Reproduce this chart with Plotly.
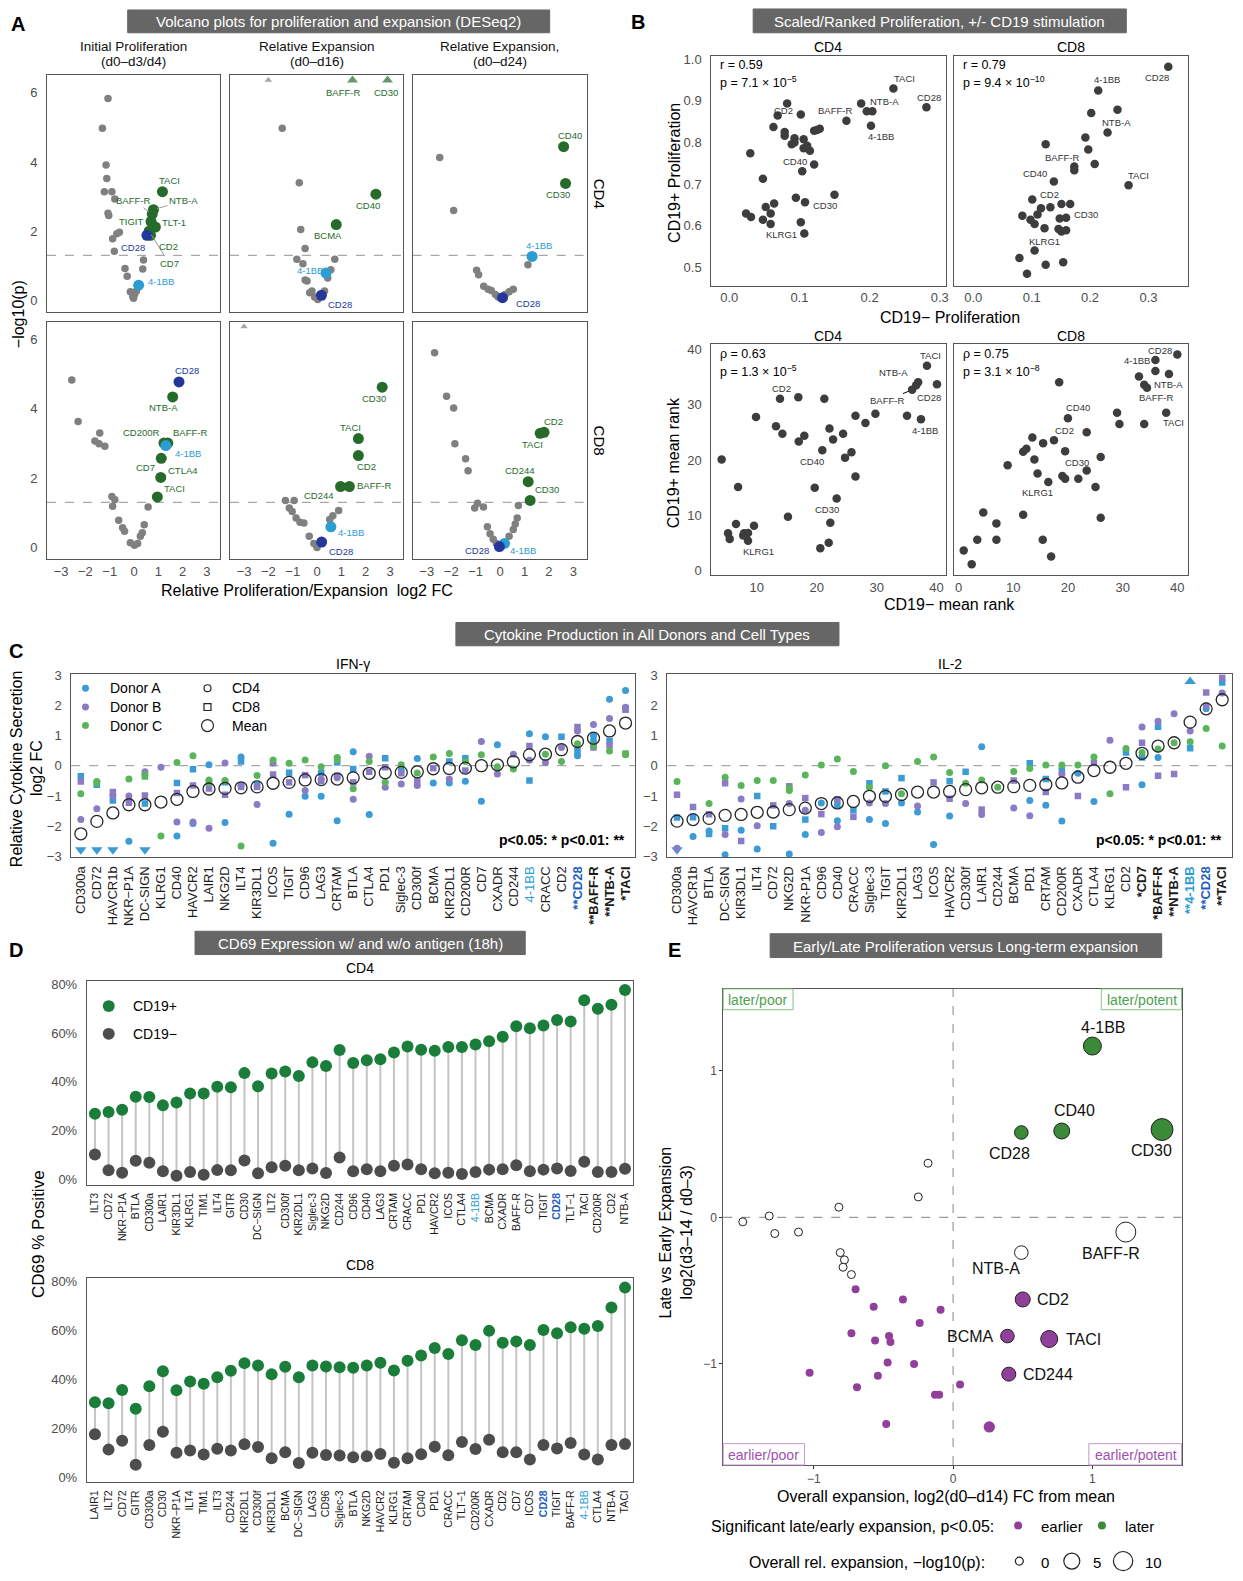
import numpy as np
import plotly.graph_objects as go

W, H = 1243, 1581
FONT = "Liberation Sans, Arial, Helvetica, sans-serif"

# ======================= DATA =======================
# ---- Panel A: volcano plots (log2 FC, -log10 p) ----
A1_GRAY_X = [-1.07, -1.30, -1.15, -1.12, -1.22, -0.91, -0.79, -1.07, -1.04, -0.71, -0.60, -0.88, -0.81, 0.39, -0.37, -0.28, 0.36, -0.15, -0.02, 0.02, 0.10, -0.05]
A1_GRAY_Y = [5.83, 4.97, 3.91, 3.52, 3.14, 3.14, 2.93, 2.52, 2.45, 1.93, 1.97, 1.78, 1.42, 1.17, 0.92, 0.70, 0.91, 0.25, 0.06, 0.17, 0.27, 0.12]
A1_HL = ["TACI", "NTB-A", "BAFF-R", "TIGIT", "TLT-1", "CD7", "CD2", "CD28", "4-1BB"]
A1_HL_X = [1.17, 0.80, 0.75, 0.70, 0.88, 0.62, 0.68, 0.53, 0.19]
A1_HL_Y = [3.14, 2.62, 2.50, 2.28, 2.12, 2.00, 1.88, 1.88, 0.44]
A1_TOP = []
A1_TOP_X = []

A2_GRAY_X = [-1.43, -0.73, -0.67, -0.49, -0.83, -0.58, 0.73, -0.49, -0.41, 0.57, 0.44, -0.21, -0.10, 0.03, 0.31, -0.30]
A2_GRAY_Y = [4.97, 3.40, 2.05, 1.50, 1.19, 1.06, 1.19, 0.59, 0.56, 0.89, 0.65, 0.27, 0.10, 0.03, 0.27, 0.22]
A2_HL = ["CD40", "BCMA", "4-1BB", "CD28"]
A2_HL_X = [2.42, 0.79, 0.37, 0.18]
A2_HL_Y = [3.07, 2.19, 0.79, 0.15]
A2_TOP = ["", "BAFF-R", "CD30"]          # off-scale (p beyond axis)
A2_TOP_X = [-2.00, 1.46, 2.90]

A3_GRAY_X = [-2.47, -1.90, -0.96, -0.88, -0.67, -0.49, -0.36, -0.19, -0.08, 0.21, 0.37, 0.54, 1.14]
A3_GRAY_Y = [4.13, 2.60, 0.87, 0.74, 0.41, 0.32, 0.29, 0.17, 0.10, 0.17, 0.25, 0.32, 1.03]
A3_HL = ["CD40", "CD30", "4-1BB", "CD28"]
A3_HL_X = [2.60, 2.68, 1.31, 0.10]
A3_HL_Y = [4.44, 3.38, 1.27, 0.08]
A3_TOP = []
A3_TOP_X = []

A4_GRAY_X = [-2.56, -2.30, -1.41, -1.61, -1.44, -1.20, -0.91, -0.88, -0.63, -0.47, -0.39, -0.15, 0.02, 0.15, 0.26, 0.34, 0.42, 0.58, -0.79]
A4_GRAY_Y = [4.83, 3.63, 3.30, 3.07, 2.99, 2.92, 1.47, 1.19, 0.79, 0.57, 0.47, 0.14, 0.07, 0.12, 0.33, 0.43, 0.66, 1.17, 1.38]
A4_HL = ["CD28", "NTB-A", "CD200R", "BAFF-R", "4-1BB", "CD7", "CTLA4", "TACI"]
A4_HL_X = [1.85, 1.59, 1.23, 1.39, 1.31, 1.12, 1.10, 0.96]
A4_HL_Y = [4.77, 4.34, 3.01, 3.01, 2.94, 2.57, 2.02, 1.46]
A4_TOP = []
A4_TOP_X = []

A5_GRAY_X = [-1.30, -0.94, -1.14, -1.02, -0.86, -0.70, -0.54, -0.32, -0.13, 0.00, 0.65, 0.89, 0.52]
A5_GRAY_Y = [1.36, 1.36, 1.14, 1.04, 0.85, 0.73, 0.71, 0.33, 0.12, 0.00, 0.92, 1.07, 0.81]
A5_HL = ["CD30", "TACI", "CD2", "CD244", "BAFF-R", "4-1BB", "CD28"]
A5_HL_X = [2.68, 1.70, 1.70, 0.97, 1.33, 0.57, 0.19]
A5_HL_Y = [4.62, 3.14, 2.65, 1.76, 1.76, 0.60, 0.16]
A5_TOP = [""]
A5_TOP_X = [-3.00]

A6_GRAY_X = [-2.68, -2.19, -1.90, -1.85, -1.41, -1.31, -1.04, -0.92, -0.68, -0.52, -0.41, -0.28, -0.15, 0.37, 0.54, 0.62, 0.70, 0.75]
A6_GRAY_Y = [5.61, 4.36, 4.02, 2.99, 2.56, 2.21, 1.14, 1.28, 1.17, 0.60, 0.40, 0.24, 0.12, 0.33, 0.52, 0.68, 0.85, 1.21]
A6_HL = ["CD2", "TACI", "CD244", "CD30", "4-1BB", "CD28"]
A6_HL_X = [1.80, 1.64, 1.15, 1.23, 0.18, -0.03]
A6_HL_Y = [3.32, 3.29, 1.90, 1.36, 0.12, 0.03]
A6_TOP = []
A6_TOP_X = []

P_CUTOFF = 0.05

# ---- Panel B: scaled / ranked proliferation ----
B1_X = [0.0825, 0.069, 0.102, 0.063, 0.079, 0.079, 0.093, 0.093, 0.089, 0.106, 0.106, 0.111, 0.115, 0.121, 0.129, 0.125, 0.030, 0.121, 0.104, 0.048, 0.167, 0.188, 0.196, 0.204, 0.202, 0.234, 0.281, 0.150, 0.095, 0.108, 0.064, 0.052, 0.024, 0.031, 0.059, 0.048, 0.059, 0.102, 0.107]
B1_Y = [0.894, 0.865, 0.867, 0.837, 0.825, 0.816, 0.810, 0.800, 0.796, 0.808, 0.786, 0.792, 0.780, 0.828, 0.833, 0.830, 0.774, 0.747, 0.731, 0.713, 0.852, 0.894, 0.875, 0.875, 0.840, 0.930, 0.885, 0.674, 0.667, 0.656, 0.653, 0.645, 0.629, 0.621, 0.629, 0.614, 0.604, 0.608, 0.581]
B1_N = ["", "CD2", "", "", "", "", "", "", "", "", "", "", "", "", "", "", "", "", "CD40", "", "BAFF-R", "NTB-A", "", "", "4-1BB", "TACI", "CD28", "", "", "CD30", "", "", "", "", "", "", "", "", "KLRG1"]

B2_X = [0.334, 0.214, 0.247, 0.202, 0.230, 0.192, 0.124, 0.197, 0.208, 0.173, 0.173, 0.266, 0.138, 0.101, 0.151, 0.166, 0.116, 0.132, 0.084, 0.110, 0.098, 0.105, 0.122, 0.148, 0.159, 0.146, 0.151, 0.159, 0.105, 0.079, 0.124, 0.154, 0.092]
B2_Y = [0.982, 0.925, 0.879, 0.871, 0.824, 0.812, 0.796, 0.783, 0.748, 0.742, 0.733, 0.697, 0.706, 0.663, 0.652, 0.652, 0.642, 0.644, 0.624, 0.627, 0.614, 0.604, 0.594, 0.617, 0.619, 0.592, 0.586, 0.589, 0.540, 0.522, 0.506, 0.512, 0.484]
B2_N = ["CD28", "4-1BB", "NTB-A", "", "", "", "", "", "", "BAFF-R", "", "TACI", "CD40", "CD2", "", "", "", "", "", "", "", "", "KLRG1", "", "CD30", "", "", "", "", "", "", "", ""]

B3_X = [4.13, 6.87, 6.53, 5.20, 5.47, 7.87, 8.53, 9.53, 8.53, 7.73, 9.87, 13.87, 16.93, 21.27, 13.20, 14.27, 17.00, 17.93, 20.93, 22.13, 22.73, 24.40, 24.73, 25.80, 26.47, 28.13, 29.80, 26.47, 19.67, 23.33, 15.20, 22.27, 20.60, 22.00, 35.07, 37.40, 38.40, 40.07, 36.93, 36.60, 35.93]
B3_Y = [20.06, 15.09, 8.38, 6.71, 5.69, 6.71, 6.77, 8.08, 5.33, 6.29, 27.78, 31.08, 31.38, 31.08, 26.11, 24.73, 23.35, 24.37, 21.74, 25.69, 23.71, 24.73, 20.42, 21.38, 28.02, 26.71, 28.38, 17.01, 14.97, 12.99, 9.70, 8.62, 4.01, 4.97, 28.02, 27.37, 37.07, 33.71, 34.07, 33.53, 32.75]
B3_N = ["", "", "", "", "", "", "", "", "KLRG1", "", "", "CD2", "", "", "", "", "", "", "CD40", "", "", "", "", "", "", "", "", "", "", "CD30", "", "", "", "", "", "4-1BB", "TACI", "CD28", "NTB-A", "", "BAFF-R"]

B4_X = [0.95, 2.41, 3.43, 4.53, 6.93, 6.93, 8.98, 11.82, 12.41, 13.50, 13.87, 14.45, 15.47, 16.42, 17.45, 18.40, 19.49, 18.98, 19.49, 20.00, 21.90, 23.43, 23.43, 25.04, 25.99, 25.99, 11.82, 15.40, 16.93, 28.98, 29.42, 33.94, 32.99, 33.94, 34.45, 35.99, 35.99, 38.47, 37.96, 40.00]
B4_Y = [3.59, 1.08, 5.51, 10.48, 8.50, 5.51, 19.04, 21.50, 22.04, 24.07, 20.06, 17.54, 23.05, 15.99, 23.59, 34.07, 21.56, 17.07, 16.59, 27.54, 16.59, 25.03, 18.08, 15.09, 20.54, 9.52, 10.06, 5.51, 2.51, 28.56, 26.53, 26.53, 35.15, 33.65, 33.11, 38.14, 36.11, 35.57, 28.56, 39.10]
B4_N = ["", "", "", "", "", "", "", "", "", "", "", "", "", "KLRG1", "CD2", "", "", "", "", "CD40", "", "", "CD30", "", "", "", "", "", "", "", "", "", "", "", "BAFF-R", "4-1BB", "", "NTB-A", "TACI", "CD28"]

B_STATS = [("r = 0.59", "p = 7.1 × 10<sup>−5</sup>"), ("r = 0.79", "p = 9.4 × 10<sup>−10</sup>"),
           ("ρ = 0.63", "p = 1.3 × 10<sup>−5</sup>"), ("ρ = 0.75", "p = 3.1 × 10<sup>−8</sup>")]

# ---- Panel C: cytokine secretion (log2 FC) ----
N = None
IFN_NAMES = ["CD300a", "CD72", "HAVCR1b", "NKR−P1A", "DC-SIGN", "KLRG1", "CD40", "HAVCR2", "LAIR1", "NKG2D", "ILT4", "KIR3DL1", "ICOS", "TIGIT", "CD96", "LAG3", "CRTAM", "BTLA", "CTLA4", "PD1", "Siglec-3", "CD300f", "BCMA", "KIR2DL1", "CD200R", "CD7", "CXADR", "CD244", "4-1BB", "CRACC", "CD2", "CD28", "BAFF-R", "NTB-A", "TACI"]
IFN_SIG = [""] * 31 + ["**", "**", "**", "*"]
IFN_MEAN = [-2.25, -1.84, -1.56, -1.29, -1.29, -1.20, -1.11, -0.85, -0.77, -0.75, -0.73, -0.70, -0.58, -0.55, -0.47, -0.46, -0.44, -0.40, -0.25, -0.23, -0.22, -0.20, -0.10, -0.09, -0.08, 0.00, 0.03, 0.13, 0.36, 0.38, 0.53, 0.80, 0.91, 1.15, 1.41]
IFN_A_CD4 = [-3.5, -3.5, -3.5, -2.50, -3.5, N, -2.32, -1.91, 0.03, -1.88, 0.29, N, -2.56, -1.60, -1.01, -1.01, -1.82, 0.46, -1.61, N, N, 0.24, -0.57, -0.57, -0.51, -1.17, 0.69, N, 1.06, 0.96, N, 0.33, 0.98, 2.20, 2.49]
IFN_A_CD8 = [-0.35, -0.63, -1.15, N, -1.25, N, -0.57, -0.12, N, -0.55, 0.14, -0.63, N, -0.23, N, -0.24, 0.11, -0.11, N, 0.25, -0.14, N, N, 0.14, 0.25, N, N, N, -0.49, N, 0.96, 0.49, 0.80, 0.82, 1.90]
IFN_B_CD4 = [-1.78, -1.42, -0.98, -1.00, -0.20, -0.05, -1.86, -1.86, -2.07, 0.09, -0.65, -1.28, 0.08, N, -0.82, -0.45, -0.40, -1.11, 0.31, -0.71, -0.60, -0.65, N, -0.44, N, 0.80, -0.27, 0.38, 0.18, 0.11, 0.60, 1.15, 1.36, 1.56, 1.93]
IFN_B_CD8 = [-0.52, N, -0.87, -1.22, -0.98, N, -0.90, -0.65, -0.75, -0.96, -0.70, -0.70, -0.29, -0.55, -0.31, -0.51, -0.33, -0.55, -0.20, -0.05, -0.25, -0.49, -0.08, N, -0.16, N, N, N, 0.65, N, N, 1.28, 0.60, 0.68, 1.85]
IFN_C_CD4 = [-0.93, -0.52, N, -0.44, -0.31, -2.32, 0.11, 0.33, -0.47, -0.49, -2.65, -0.32, 0.19, 0.08, 0.19, -0.03, 0.27, -0.76, 0.14, -0.55, 0.03, -0.24, 0.29, 0.40, 0.14, 0.36, -0.03, -0.11, N, 0.38, 0.14, 0.73, 0.65, 0.49, 0.36]
IFN_C_CD8 = [N, -0.57, N, N, -0.36, N, N, N, -0.55, N, N, N, N, N, N, N, 0.20, N, N, N, N, N, N, N, N, N, N, N, N, N, N, N, N, N, 0.40]

IL2_NAMES = ["CD300a", "HAVCR1b", "BTLA", "DC-SIGN", "KIR3DL1", "ILT4", "CD72", "NKG2D", "NKR-P1A", "CD96", "CD40", "CRACC", "Siglec-3", "TIGIT", "KIR2DL1", "LAG3", "ICOS", "HAVCR2", "CD300f", "LAIR1", "CD244", "BCMA", "PD1", "CRTAM", "CD200R", "CXADR", "CTLA4", "KLRG1", "CD2", "CD7", "BAFF-R", "NTB-A", "4-1BB", "CD28", "TACI"]
IL2_SIG = [""] * 29 + ["*", "*", "**", "**", "**", "**"]
IL2_MEAN = [-1.83, -1.78, -1.74, -1.64, -1.61, -1.54, -1.53, -1.45, -1.40, -1.25, -1.23, -1.18, -1.01, -1.01, -0.95, -0.87, -0.87, -0.85, -0.79, -0.73, -0.71, -0.69, -0.65, -0.62, -0.57, -0.38, -0.16, -0.05, 0.08, 0.41, 0.65, 0.76, 1.44, 1.88, 2.18]
IL2_A_CD4 = [-3.5, -2.34, -2.16, -2.94, -2.13, -2.75, N, -2.92, -2.27, -1.23, -1.82, N, -1.78, -1.91, -1.23, -1.53, -2.60, -1.66, N, 0.63, N, N, -1.15, -1.31, -1.83, -0.25, -1.18, N, N, -0.63, 0.27, N, 3.5, 1.88, N]
IL2_A_CD8 = [-1.71, -1.70, -2.26, -2.07, N, -1.00, -2.00, N, -1.78, N, -1.30, -1.47, -0.58, -0.85, -0.41, N, N, -0.51, -0.20, N, N, N, 0.08, -0.44, -0.14, N, N, N, 0.44, 0.27, 1.29, N, 0.58, N, 2.75]
IL2_B_CD4 = [-2.73, N, N, -2.27, -1.10, -1.98, N, -1.25, -1.47, -2.21, -2.02, N, -1.23, -1.25, N, -1.33, N, N, -1.25, -1.61, N, -1.40, -1.65, N, -0.27, N, N, 0.84, N, 1.28, 1.47, 1.72, 1.15, 1.98, 2.40]
IL2_B_CD8 = [-0.96, -1.36, -1.60, -0.58, -2.49, N, -1.31, -0.68, -1.07, -1.60, -1.11, -1.69, N, N, N, N, -0.55, -1.09, N, -1.45, N, -0.49, N, -0.87, N, -1.00, 0.09, N, -0.71, 0.76, -0.33, -0.27, N, 2.42, 2.91]
IL2_C_CD4 = [-0.52, N, -1.25, -0.38, -0.65, -0.49, -0.49, -0.82, -0.31, 0.02, 0.22, -0.19, -0.71, 0.00, -0.93, 0.14, 0.29, -0.22, -0.58, -0.47, -0.71, -0.19, -0.09, 0.02, 0.02, 0.02, 0.29, -0.93, 0.57, 0.44, 0.55, 0.76, 0.79, 1.23, 0.65]
IL2_C_CD8 = [N, N, N, N, N, N, N, -0.75, N, N, N, N, N, N, N, N, N, N, N, N, N, N, N, N, N, N, N, N, N, N, N, N, N, N, N]

# ---- Panel D: CD69 expression (% positive) ----
D4_NAMES = ["ILT3", "CD72", "NKR−P1A", "BTLA", "CD300a", "LAIR1", "KIR3DL1", "KLRG1", "TIM1", "ILT4", "GITR", "CD30", "DC−SIGN", "ILT2", "CD300f", "KIR2DL1", "Siglec-3", "NKG2D", "CD244", "CD96", "CD40", "LAG3", "CRTAM", "CRACC", "PD1", "HAVCR2", "ICOS", "CTLA4", "4-1BB", "BCMA", "CXADR", "BAFF-R", "CD7", "TIGIT", "CD28", "TLT−1", "TACI", "CD200R", "CD2", "NTB-A"]
D4_POS = [27.0, 27.7, 28.6, 33.9, 33.8, 30.4, 31.6, 35.3, 35.3, 38.0, 37.8, 43.6, 38.2, 43.4, 44.3, 42.4, 48.0, 46.5, 53.1, 47.7, 48.9, 49.3, 52.0, 54.5, 53.2, 52.8, 54.3, 54.3, 55.3, 56.6, 58.5, 62.8, 62.0, 63.1, 65.3, 64.7, 73.4, 69.9, 71.6, 77.6]
D4_NEG = [10.3, 3.8, 2.8, 7.7, 6.9, 3.4, 1.6, 3.1, 2.0, 3.9, 3.8, 7.8, 2.6, 5.1, 5.7, 3.8, 4.6, 2.7, 9.1, 3.4, 4.3, 3.4, 5.7, 6.2, 4.3, 2.6, 2.8, 2.3, 3.1, 4.1, 4.3, 5.9, 3.4, 4.1, 4.6, 3.5, 7.3, 3.1, 3.1, 4.5]
D8_NAMES = ["LAIR1", "ILT2", "CD72", "GITR", "CD300a", "CD30", "NKR−P1A", "ILT4", "TIM1", "ILT3", "CD244", "KIR2DL1", "CD300f", "KIR3DL1", "BCMA", "DC−SIGN", "LAG3", "CD96", "Siglec-3", "BTLA", "NKG2D", "HAVCR2", "KLRG1", "CRTAM", "CD40", "PD1", "CRACC", "TLT−1", "CD200R", "CXADR", "CD2", "CD7", "ICOS", "CD28", "TIGIT", "BAFF-R", "4-1BB", "CTLA4", "NTB-A", "TACI"]
D8_POS = [30.6, 30.2, 35.6, 27.9, 37.1, 43.3, 35.5, 39.1, 38.2, 40.8, 43.5, 46.6, 45.6, 42.0, 45.1, 40.8, 45.6, 45.2, 44.9, 44.7, 45.6, 46.8, 43.6, 47.6, 49.7, 52.8, 50.3, 56.0, 54.0, 59.8, 54.9, 55.5, 54.0, 60.2, 58.8, 61.3, 60.7, 61.8, 69.4, 77.5]
D8_NEG = [17.5, 11.2, 14.8, 5.0, 13.1, 18.5, 9.9, 10.8, 9.2, 11.6, 10.8, 13.4, 12.3, 7.7, 10.1, 5.7, 9.9, 9.0, 8.8, 8.1, 8.5, 9.4, 5.8, 7.7, 9.3, 12.4, 8.9, 14.3, 11.5, 15.2, 10.1, 10.1, 7.2, 13.1, 11.7, 13.9, 9.2, 7.2, 13.1, 13.5]

# ---- Panel E: early/late vs long-term expansion ----
E_X = [1.00, 0.78, 0.49, 1.50,
       -1.51, -1.32, -1.28, -1.11, -0.82, -0.25, -0.18, 1.24, 0.49, -0.81, -0.78, -0.79, -0.73,
       -0.70, -0.36, -0.57, -0.09, -0.24, -0.73, -0.56, -0.46, -0.45, -0.47, -0.28, -1.03, -0.54, 0.05, -0.69, -0.13, -0.10, -0.48, 0.26,
       0.50, 0.39, 0.69, 0.40]
E_Y = [1.17, 0.59, 0.58, 0.60,
       -0.03, 0.01, -0.11, -0.10, 0.07, 0.14, 0.37, -0.10, -0.24, -0.24, -0.29, -0.34, -0.39,
       -0.49, -0.56, -0.61, -0.63, -0.72, -0.79, -0.84, -0.81, -0.85, -0.99, -1.00, -1.06, -1.08, -1.14, -1.16, -1.21, -1.21, -1.41, -1.43,
       -0.56, -0.81, -0.83, -1.07]
E_NLP = [7.7, 4.9, 2.4, 15.0,
         0, 0, 0, 0, 0, 0, 0, 11.0, 2.4, 0, 0, 0, 0,
         0, 0, 0, 0, 0, 0, 0, 0, 0, 0, 0, 0, 0, 0, 0, 0, 0, 0, 0.85,
         3.8, 2.4, 6.25, 2.8]
E_SIG = ["later"] * 4 + ["ns"] * 13 + ["earlier"] * 23
E_NAME = ["4-1BB", "CD40", "CD28", "CD30",
          "", "", "", "", "", "", "", "BAFF-R", "NTB-A", "", "", "", "",
          "", "", "", "", "", "", "", "", "", "", "", "", "", "", "", "", "", "", "",
          "CD2", "BCMA", "TACI", "CD244"]

# ======================= STYLE =======================
GRAY = "#808080"; GREEN = "#276b2b"; NAVY = "#24389c"; LBLUE = "#2b9dd3"
CA = "#3b9bd6"; CB = "#8c7bc4"; CC = "#5ab55a"
D_POS_C = "#1a7d3a"; D_NEG_C = "#4d4d4d"
E_GREEN = "#3a8a3a"; E_PURPLE = "#923f9b"
TICKC = "#4d4d4d"; FRAME = "#555555"
CD28C = "#1d5fbf"

fig = go.Figure()
L = {}
ANN = []
SHP = []


def aid(n):
    return "" if n == 1 else str(n)


def add_axes(n, box, xr, yr, xkw=None, ykw=None):
    x0, x1, y0, y1 = box
    base = dict(showline=True, mirror=True, linecolor=FRAME, linewidth=1, showgrid=False,
                zeroline=False, ticks="", tickfont=dict(size=13, color=TICKC, family=FONT))
    xa = dict(base, domain=[x0 / W, x1 / W], range=xr, anchor="y" + aid(n))
    ya = dict(base, domain=[1 - y1 / H, 1 - y0 / H], range=yr, anchor="x" + aid(n))
    if xkw:
        xa.update(xkw)
    if ykw:
        ya.update(ykw)
    L["xaxis" + aid(n)] = xa
    L["yaxis" + aid(n)] = ya


def sc(n, **kw):
    fig.add_trace(go.Scatter(xaxis="x" + aid(n), yaxis="y" + aid(n), showlegend=False,
                             hoverinfo="skip", **kw))


def txt(x, y, s, size=14, color="#000", family=FONT, xanchor="center", yanchor="middle", **kw):
    ANN.append(dict(x=x / W, y=1 - y / H, xref="paper", yref="paper", text=s, showarrow=False,
                    xanchor=xanchor, yanchor=yanchor,
                    font=dict(size=size, color=color, family=family), **kw))


def dlabel(n, x, y, s, dx, dy, size=10, color="#000", leader=False, xanchor="center", **kw):
    d = dict(x=x, y=y, xref="x" + aid(n), yref="y" + aid(n), text=s, xanchor=xanchor,
             yanchor="middle", font=dict(size=size, color=color, family=FONT))
    if leader:
        d.update(showarrow=True, arrowhead=0, ax=dx, ay=-dy, arrowcolor="#9a9a9a",
                 arrowwidth=1, standoff=4)
    else:
        d.update(showarrow=False, xshift=dx, yshift=dy)
    d.update(kw)
    ANN.append(d)


def rect(x0, y0, x1, y1, fill=None, line="rgba(0,0,0,0)", lw=1, layer="above"):
    SHP.append(dict(type="rect", xref="paper", yref="paper", x0=x0 / W, x1=x1 / W,
                    y0=1 - y1 / H, y1=1 - y0 / H, fillcolor=fill or "rgba(0,0,0,0)",
                    line=dict(color=line, width=lw), layer=layer))


def circ(cx, cy, d, fill, line="rgba(0,0,0,0)", lw=1):
    r = d / 2
    SHP.append(dict(type="circle", xref="paper", yref="paper", x0=(cx - r) / W, x1=(cx + r) / W,
                    y0=1 - (cy + r) / H, y1=1 - (cy - r) / H, fillcolor=fill,
                    line=dict(color=line, width=lw), layer="above"))


def title_box(x0, y0, x1, y1, s, size=15):
    rect(x0, y0, x1, y1, fill="#666666", line="#666666", layer="below")
    txt((x0 + x1) / 2, (y0 + y1) / 2 + 0.5, s, size=size, color="#ffffff")


def hline(n, y, color="#a8a8a8"):
    SHP.append(dict(type="line", xref="x%s domain" % aid(n), yref="y" + aid(n), x0=0, x1=1,
                    y0=y, y1=y, line=dict(color=color, width=1.2, dash="dash"), layer="below"))


def vline(n, x, color="#a8a8a8"):
    SHP.append(dict(type="line", yref="y%s domain" % aid(n), xref="x" + aid(n), y0=0, y1=1,
                    x0=x, x1=x, line=dict(color=color, width=1.2, dash="dash"), layer="below"))


# ======================= PANEL A =======================
A_COLS = [(47.1, 220.6), (230.5, 404.1), (413.6, 588.0)]
A_ROWS = [(69.0, 307.6), (317.7, 557.0)]
A_XR = [-3.58, 3.54]
A_YR = [-0.33, 6.5]
A_TOPY = 6.36

A_SETS = [
    (A1_GRAY_X, A1_GRAY_Y, A1_HL, A1_HL_X, A1_HL_Y, A1_TOP, A1_TOP_X),
    (A2_GRAY_X, A2_GRAY_Y, A2_HL, A2_HL_X, A2_HL_Y, A2_TOP, A2_TOP_X),
    (A3_GRAY_X, A3_GRAY_Y, A3_HL, A3_HL_X, A3_HL_Y, A3_TOP, A3_TOP_X),
    (A4_GRAY_X, A4_GRAY_Y, A4_HL, A4_HL_X, A4_HL_Y, A4_TOP, A4_TOP_X),
    (A5_GRAY_X, A5_GRAY_Y, A5_HL, A5_HL_X, A5_HL_Y, A5_TOP, A5_TOP_X),
    (A6_GRAY_X, A6_GRAY_Y, A6_HL, A6_HL_X, A6_HL_Y, A6_TOP, A6_TOP_X),
]
A_LBL = {
    1: {"TACI": (7, 11), "NTB-A": (30, 9, 1), "BAFF-R": (-19, 13, 1), "TIGIT": (-20, 0), "TLT-1": (19, 5),
        "CD28": (-14, -12), "CD2": (18, -11), "CD7": (20, -32, 1), "4-1BB": (22, 4)},
    2: {"BAFF-R": (-10, -12), "CD30": (-2, -12), "CD40": (-8, -11), "BCMA": (-8, -11), "4-1BB": (-16, 3),
        "CD28": (19, -9)},
    3: {"CD40": (6, 11), "CD30": (-8, -11), "4-1BB": (7, 11), "CD28": (25, -6)},
    4: {"CD28": (8, 11), "NTB-A": (-9, -11), "CD200R": (-22, 11), "BAFF-R": (22, 11), "4-1BB": (22, -8),
        "CD7": (-16, -9), "CTLA4": (22, 7), "TACI": (17, 8)},
    5: {"CD30": (-8, -11), "TACI": (-8, 11), "CD2": (8, -11), "BAFF-R": (25, 1), "CD244": (-22, -9),
        "4-1BB": (20, -6), "CD28": (19, -9)},
    6: {"CD2": (9, 11), "TACI": (-8, -11), "CD244": (-8, 11), "CD30": (17, 11), "4-1BB": (19, -7),
        "CD28": (-22, -4)},
}


def vcol(name):
    if name == "CD28":
        return NAVY
    if name == "4-1BB":
        return LBLUE
    return GREEN if name else GRAY


for k, (gx, gy, hn, hx, hy, tn, tx) in enumerate(A_SETS):
    n = k + 1
    r, c = divmod(k, 3)
    box = (A_COLS[c][0], A_COLS[c][1], A_ROWS[r][0], A_ROWS[r][1])
    add_axes(n, box, A_XR, A_YR,
             xkw=dict(tickvals=[-3, -2, -1, 0, 1, 2, 3], showticklabels=(r == 1), ticklabelstandoff=0),
             ykw=dict(tickvals=[0, 2, 4, 6], showticklabels=(c == 0), ticklabelstandoff=6))
    hline(n, -np.log10(P_CUTOFF))
    sc(n, x=gx, y=gy, mode="markers", marker=dict(size=7.5, color=GRAY))
    if tx:
        sc(n, x=tx, y=[A_TOPY] * len(tx), mode="markers",
           marker=dict(symbol="triangle-up", size=[8 if not t else 11 for t in tn],
                       color=[vcol(t) for t in tn]))
    sc(n, x=hx, y=hy, mode="markers", marker=dict(size=11, color=[vcol(t) for t in hn]))
    lab = A_LBL[n]
    for name, x, y in list(zip(hn, hx, hy)) + [(t, x, A_TOPY) for t, x in zip(tn, tx) if t]:
        if name in lab:
            o = lab[name]
            dlabel(n, x, y, name, o[0], o[1], size=9.5, color=vcol(name), leader=len(o) > 2)

A_TITLES = [("Initial Proliferation", "(d0–d3/d4)"), ("Relative Expansion", "(d0–d16)"),
            ("Relative Expansion,", "(d0–d24)")]
for (c0, c1), (t1, t2) in zip(A_COLS, A_TITLES):
    txt((c0 + c1) / 2, 40, t1, size=13.5, color="#111")
    txt((c0 + c1) / 2, 55, t2, size=13.5, color="#111")
txt(601, 188, "CD4", size=15, textangle=90)
txt(601, 437, "CD8", size=15, textangle=90)
txt(18, 310, "−log10(p)", size=16, textangle=-90)
txt(308, 589, "Relative Proliferation/Expansion  log2 FC", size=16)
title_box(128, 3, 551, 26, "Volcano plots for proliferation and expansion (DESeq2)")
txt(18, 17, "<b>A</b>", size=20)

# ======================= PANEL B =======================
B_COLS = [(713, 948), (956, 1191)]
B_ROWS = [(49, 281), (340.3, 573.3)]
B_SETS = [(7, B1_X, B1_Y, B1_N, [-0.0256, 0.3085], [0.456, 1.009]),
          (8, B2_X, B2_Y, B2_N, [-0.0336, 0.368], [0.456, 1.009]),
          (9, B3_X, B3_Y, B3_N, [2.4, 41.53], [-0.9, 40.97]),
          (10, B4_X, B4_Y, B4_N, [-0.88, 41.97], [-0.9, 40.97])]
B_LBL = {
    7: {"CD2": (6, 5), "CD40": (-7, 10), "BAFF-R": (-11, 10), "NTB-A": (23, 2), "4-1BB": (10, -11),
        "TACI": (11, 10), "CD28": (3, 10), "CD30": (20, -3), "KLRG1": (-23, -1)},
    8: {"CD28": (-11, -11), "4-1BB": (9, 11), "NTB-A": (-1, -13), "BAFF-R": (-12, 9), "TACI": (10, 10),
        "CD40": (-19, 8), "CD2": (17, 5), "CD30": (20, 3), "KLRG1": (0, -13)},
    9: {"KLRG1": (10, -11), "CD2": (2, 10), "CD40": (-10, -11), "CD30": (-10, -11), "4-1BB": (4, -11),
        "TACI": (4, 10), "CD28": (-8, -13), "NTB-A": (-25, 10), "BAFF-R": (-25, -11, 1)},
    10: {"KLRG1": (-11, -10), "CD40": (10, 11), "CD2": (11, 10), "CD30": (-10, 8), "BAFF-R": (9, -10),
         "4-1BB": (-18, -1), "NTB-A": (0, -10), "TACI": (7, -10), "CD28": (-17, 4)},
}
for k, (n, bx, by, bn, xr, yr) in enumerate(B_SETS):
    r, c = divmod(k, 2)
    box = (B_COLS[c][0], B_COLS[c][1], B_ROWS[r][0], B_ROWS[r][1])
    if r == 0:
        xkw = dict(tickvals=[0, 0.1, 0.2, 0.3], tickformat=".1f", ticklabelstandoff=0)
        ykw = dict(tickvals=[0.5, 0.6, 0.7, 0.8, 0.9, 1.0], tickformat=".1f", showticklabels=(c == 0),
                   ticklabelstandoff=6)
    else:
        xkw = dict(tickvals=[0, 10, 20, 30, 40], ticklabelstandoff=0)
        ykw = dict(tickvals=[0, 10, 20, 30, 40], showticklabels=(c == 0), ticklabelstandoff=6)
    add_axes(n, box, xr, yr, xkw=xkw, ykw=ykw)
    sc(n, x=bx, y=by, mode="markers", marker=dict(size=8.5, color="#3d3d3d"))
    for name, x, y in zip(bn, bx, by):
        if name:
            o = B_LBL[n][name]
            dlabel(n, x, y, name, o[0], o[1], size=9.5, color="#333", leader=len(o) > 2)
            if len(o) > 2:
                ANN[-1]["arrowcolor"] = "#000"
    s1, s2 = B_STATS[k]
    txt(box[0] + 7, box[2] + 10, s1, size=12.5, xanchor="left")
    txt(box[0] + 7, box[2] + 27, s2, size=12.5, xanchor="left")

for (c0, c1), lab in zip(B_COLS, ["CD4", "CD8"]):
    txt((c0 + c1) / 2, 40, lab, size=14)
    txt((c0 + c1) / 2, 332, lab, size=14)
txt(952, 313, "CD19− Proliferation", size=16)
txt(952, 603, "CD19− mean rank", size=16)
txt(676, 167, "CD19+ Proliferation", size=16, textangle=-90)
txt(676, 460, "CD19+ mean rank", size=16, textangle=-90)
title_box(755, 2, 1129, 26, "Scaled/Ranked Proliferation, +/- CD19 stimulation")
txt(640, 15, "<b>B</b>", size=20)

# ======================= PANEL C =======================
C_BOXES = [(71.4, 636.7, 673.3, 857.7), (669, 1234.8, 673.3, 857.7)]


def tick_label(name, sig):
    s = sig + name
    if name == "4-1BB":
        s = '<span style="color:%s">%s</span>' % (LBLUE, s)
    elif name == "CD28":
        s = '<span style="color:%s">%s</span>' % (CD28C, s)
    if sig:
        s = "<b>" + s + "</b>"
    return s


C_SETS = [(11, IFN_NAMES, IFN_SIG, IFN_MEAN, [IFN_A_CD4, IFN_A_CD8, IFN_B_CD4, IFN_B_CD8, IFN_C_CD4, IFN_C_CD8], "IFN-γ"),
          (12, IL2_NAMES, IL2_SIG, IL2_MEAN, [IL2_A_CD4, IL2_A_CD8, IL2_B_CD4, IL2_B_CD8, IL2_C_CD4, IL2_C_CD8], "IL-2")]
C_CLIP = 3.0
C_TRI = 2.78
for k, (n, names, sig, mean, donors, ttl) in enumerate(C_SETS):
    b = C_BOXES[k]
    idx = np.arange(len(names))
    add_axes(n, b, [-0.6, len(names) - 0.4], [-3.02, 3.02],
             xkw=dict(tickvals=list(idx), ticktext=[tick_label(a, s) for a, s in zip(names, sig)],
                      tickangle=-90, tickfont=dict(size=13, color="#1a1a1a", family=FONT), ticklabelstandoff=3),
             ykw=dict(tickvals=[-3, -2, -1, 0, 1, 2, 3], ticklabelstandoff=6))
    hline(n, 0)
    styles = [(CA, "circle", 7), (CA, "square", 6.5), (CB, "circle", 7), (CB, "square", 6.5),
              (CC, "circle", 7), (CC, "square", 6.5)]
    for vals, (col, sym, sz) in zip(donors, styles):
        v = np.array([np.nan if q is None else q for q in vals], float)
        inr = np.abs(v) <= C_CLIP
        lo = v < -C_CLIP
        hi = v > C_CLIP
        sc(n, x=idx[inr], y=v[inr], mode="markers", marker=dict(symbol=sym, size=sz, color=col))
        if lo.any():
            sc(n, x=idx[lo], y=[-C_TRI] * int(lo.sum()), mode="markers",
               marker=dict(symbol="triangle-down", size=10, color=col))
        if hi.any():
            sc(n, x=idx[hi], y=[C_TRI] * int(hi.sum()), mode="markers",
               marker=dict(symbol="triangle-up", size=10, color=col))
    sc(n, x=idx, y=mean, mode="markers",
       marker=dict(symbol="circle-open", size=12, color="#262626", line=dict(width=1.3)))
    txt((b[0] + b[1]) / 2, 662.5, ttl, size=14)
    txt(b[1] - 8, 840, "<b>p<0.05: * p<0.01: **</b>", size=14, xanchor="right")

# legend C
for yy, col, lab in [(687.3, CA, "Donor A"), (706.3, CB, "Donor B"), (725, CC, "Donor C")]:
    circ(85.7, yy, 7, col)
    txt(108, yy, lab, size=14, xanchor="left")
circ(208, 687.3, 7, "rgba(0,0,0,0)", "#222", 1.2)
txt(230.6, 687.3, "CD4", size=14, xanchor="left")
rect(204.5, 702.8, 211.5, 709.8, line="#222", lw=1.2)
txt(230.6, 706.3, "CD8", size=14, xanchor="left")
circ(208, 725, 12, "rgba(0,0,0,0)", "#222", 1.2)
txt(230.6, 725, "Mean", size=14, xanchor="left")

txt(16, 768, "Relative Cytokine Secretion", size=16, textangle=-90)
txt(36, 768, "log2 FC", size=16, textangle=-90)
title_box(457, 621, 841, 644.5, "Cytokine Production in All Donors and Cell Types")
txt(16, 650, "<b>C</b>", size=20)

# ======================= PANEL D =======================
D_SETS = [(13, (87, 634.7, 982.7, 1188.3), D4_NAMES, D4_POS, D4_NEG, "CD4", 970),
          (14, (87, 634.7, 1282.7, 1488.3), D8_NAMES, D8_POS, D8_NEG, "CD8", 1269.5)]


def d_tick(name):
    if name == "4-1BB":
        return '<span style="color:%s">%s</span>' % (LBLUE, name)
    if name == "CD28":
        return '<b><span style="color:%s">%s</span></b>' % (CD28C, name)
    return name


for n, b, names, pos, neg, ttl, ty in D_SETS:
    idx = np.arange(len(names))
    add_axes(n, b, [-0.6, len(names) - 0.4], [-2.1, 81.3],
             xkw=dict(tickvals=list(idx), ticktext=[d_tick(a) for a in names], tickangle=-90,
                      tickfont=dict(size=10.5, color="#1a1a1a", family=FONT), ticklabelstandoff=3),
             ykw=dict(tickvals=[0, 20, 40, 60, 80], ticktext=["0%", "20%", "40%", "60%", "80%"],
                      ticklabelstandoff=6))
    lx, ly = [], []
    for i, p, q in zip(idx, pos, neg):
        lx += [i, i, None]
        ly += [q, p, None]
    sc(n, x=lx, y=ly, mode="lines", line=dict(color="#c4c4c4", width=2))
    sc(n, x=idx, y=neg, mode="markers", marker=dict(size=12, color=D_NEG_C))
    sc(n, x=idx, y=pos, mode="markers", marker=dict(size=12, color=D_POS_C))
    txt((b[0] + b[1]) / 2, ty, ttl, size=14)

circ(109, 1008, 12, D_POS_C)
txt(131, 1008, "CD19+", size=14, xanchor="left")
circ(109, 1036, 12, D_NEG_C)
txt(131, 1036, "CD19−", size=14, xanchor="left")
txt(38, 1238, "CD69 % Positive", size=17, textangle=-90)
title_box(195.5, 932.5, 526.5, 956, "CD69 Expression w/ and w/o antigen (18h)")
txt(16, 951, "<b>D</b>", size=20)

# ======================= PANEL E =======================
nE = 15
add_axes(nE, (725, 1184.4, 990.7, 1471), [-1.65, 1.64], [-1.69, 1.56],
         xkw=dict(tickvals=[-1, 0, 1], ticks="outside", ticklen=3, tickcolor="#333",
                  tickfont=dict(size=12, color=TICKC, family=FONT)),
         ykw=dict(tickvals=[-1, 0, 1], ticks="outside", ticklen=3, tickcolor="#333",
                  tickfont=dict(size=12, color=TICKC, family=FONT)))
hline(nE, 0, "#9a9a9a")
vline(nE, 0, "#9a9a9a")


def esize(v):
    return 8 + 3.6 * np.sqrt(v)


ex = np.array(E_X); ey = np.array(E_Y); ev = np.array(E_NLP); es = np.array(E_SIG)
for grp, fill in [("ns", "#ffffff"), ("earlier", E_PURPLE), ("later", E_GREEN)]:
    m = es == grp
    sizes = esize(ev[m])
    if grp == "earlier":
        lw = [1.0 if v >= 1 else 0 for v in ev[m]]
        lc = ["#222" if v >= 1 else E_PURPLE for v in ev[m]]
    else:
        lw = 1.0
        lc = "#222"
    sc(nE, x=ex[m], y=ey[m], mode="markers",
       marker=dict(size=sizes, color=fill, opacity=1, line=dict(width=lw, color=lc)))

E_LBL = {"4-1BB": (11, 19, "center"), "CD40": (13, 21, "center"), "CD28": (-12, -21, "center"),
         "CD30": (-11, -21, "center"), "BAFF-R": (-15, -21, "center"), "NTB-A": (-25, -16, "center"),
         "CD2": (12, 0, "left"), "TACI": (15, 0, "left"), "BCMA": (-11, 0, "right"),
         "CD244": (12, 0, "left")}
for name, x, y in zip(E_NAME, E_X, E_Y):
    if name:
        dx, dy, anc = E_LBL[name]
        dlabel(nE, x, y, name, dx, dy, size=16, color="#111", xanchor=anc)

QG_T = "#4f9f4f"; QG_B = "#86c386"; QP_T = "#a04fb0"; QP_B = "#c596cf"
rect(725, 990.7, 795, 1011.7, line=QG_B)
txt(728, 1001.5, "later/poor", size=14, color=QG_T, xanchor="left")
rect(1104, 990.7, 1184.4, 1011.7, line=QG_B)
txt(1182, 1001.5, "later/potent", size=14, color=QG_T, xanchor="right")
rect(725, 1449.5, 806.5, 1471, line=QP_B)
txt(728, 1460.5, "earlier/poor", size=14, color=QP_T, xanchor="left")
rect(1091.5, 1449.5, 1184.4, 1471, line=QP_B)
txt(1182, 1460.5, "earlier/potent", size=14, color=QP_T, xanchor="right")

txt(948, 1503, "Overall expansion, log2(d0–d14) FC from mean", size=16)
txt(667, 1236, "Late vs Early Expansion", size=16, textangle=-90)
txt(688, 1236, "log2(d3–14 / d0–3)", size=16, textangle=-90)

txt(998, 1533, "Significant late/early expansion, p<0.05:", size=16, xanchor="right")
circ(1020.6, 1532, 8, E_PURPLE)
txt(1042, 1533, "earlier", size=15, xanchor="left")
circ(1104.6, 1532, 8, E_GREEN)
txt(1126, 1533, "later", size=15, xanchor="left")
txt(989, 1569, "Overall rel. expansion, −log10(p):", size=16, xanchor="right")
for cx, v, lx in [(1021.8, 0, 1048), (1074.4, 5, 1100), (1125.8, 10, 1156)]:
    circ(cx, 1568, esize(v), "rgba(0,0,0,0)", "#222", 1.2)
    txt(lx, 1569, str(v), size=15)
title_box(772, 935, 1164.5, 959, "Early/Late Proliferation versus Long-term expansion")
txt(676, 951, "<b>E</b>", size=20)

# ======================= LAYOUT =======================
L.update(dict(width=W, height=H, margin=dict(l=0, r=0, t=0, b=0), paper_bgcolor="white",
              plot_bgcolor="rgba(0,0,0,0)", showlegend=False, font=dict(family=FONT, color="#000"),
              annotations=ANN, shapes=SHP))
fig.update_layout(**L)
fig.write_html("out.html", include_plotlyjs=True, config={"displayModeBar": False},
               post_script="document.body.style.margin='0';document.body.style.overflow='hidden';")
